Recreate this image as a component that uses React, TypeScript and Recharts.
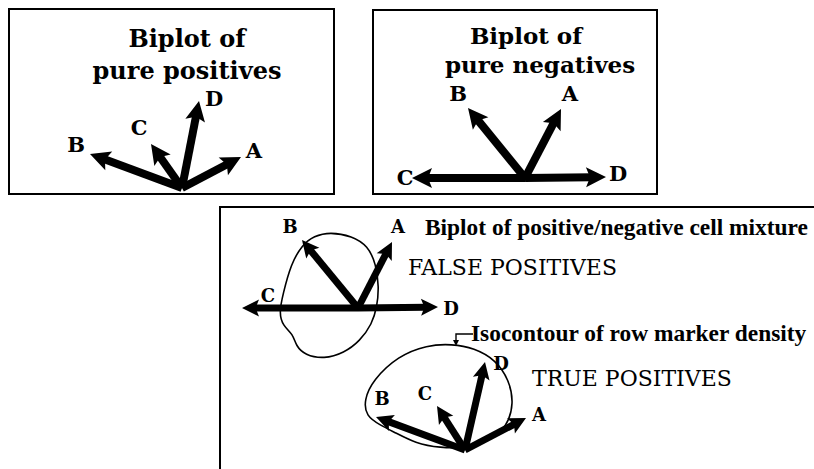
import { ScatterChart, Scatter, XAxis, YAxis, ReferenceArea } from 'recharts';

const W = 814;
const H = 469;

// panel frames (data units = pixels)
const FRAMES = [
  { x1: 9, x2: 334, y1: 9, y2: 194 },
  { x1: 373, x2: 657, y1: 10, y2: 194 },
  { x1: 220, x2: 900, y1: 207, y2: 600 },
];

// arrow origins of the four biplots
const ORIGINS = [
  { x: 182, y: 188 },
  { x: 525, y: 178 },
  { x: 358, y: 308 },
  { x: 465, y: 450 },
];

// arrow tips: A, B, C, D for each biplot
const TIPS = [
  [{ x: 241, y: 157 }, { x: 90, y: 154 }, { x: 151, y: 144 }, { x: 199, y: 101 }],
  [{ x: 561, y: 109 }, { x: 468, y: 108 }, { x: 412, y: 178 }, { x: 606, y: 177 }],
  [{ x: 392, y: 242 }, { x: 302, y: 240 }, { x: 242, y: 308 }, { x: 438, y: 307 }],
  [{ x: 526, y: 418 }, { x: 376, y: 417 }, { x: 437, y: 406 }, { x: 485, y: 362 }],
];

const LETTERS = ['A', 'B', 'C', 'D'];

// letter label positions
const LETTER_POS = [
  [{ x: 254, y: 158 }, { x: 76, y: 152 }, { x: 139, y: 135 }, { x: 214, y: 106 }],
  [{ x: 570, y: 101 }, { x: 458, y: 101 }, { x: 405, y: 185 }, { x: 618, y: 181 }],
];
const LETTER_POS_SMALL = [
  [{ x: 398, y: 233 }, { x: 290, y: 233 }, { x: 268, y: 302 }, { x: 451, y: 315 }],
  [{ x: 539, y: 421 }, { x: 382, y: 405 }, { x: 425, y: 400 }, { x: 501, y: 370 }],
];

// titles of the two small panels
const TITLES_POS = [
  { x: 187, y: 47, text: 'Biplot of' },
  { x: 187, y: 79, text: 'pure positives' },
];
const TITLES_NEG = [
  { x: 526, y: 44, text: 'Biplot of' },
  { x: 540, y: 73, text: 'pure negatives' },
];

const NOTES = [
  { x: 425, y: 235, text: 'Biplot of positive/negative cell mixture' },
  { x: 471, y: 341, text: 'Isocontour of row marker density' },
];

const STATES = [
  { x: 408, y: 275, text: 'FALSE  POSITIVES' },
  { x: 532, y: 386, text: 'TRUE  POSITIVES' },
];

// isocontours
const CONTOUR_FALSE = [
  { x: 330, y: 232 }, { x: 352, y: 236 }, { x: 368, y: 246 }, { x: 376, y: 264 },
  { x: 379, y: 287 }, { x: 377, y: 307 }, { x: 372, y: 324 }, { x: 360, y: 341 },
  { x: 344, y: 353 }, { x: 324, y: 359 }, { x: 305, y: 355 }, { x: 296, y: 346 },
  { x: 293, y: 334 }, { x: 283, y: 326 }, { x: 279, y: 313 }, { x: 283, y: 294 },
  { x: 291, y: 264 }, { x: 302, y: 245 }, { x: 314, y: 236 },
];
const CONTOUR_TRUE = [
  { x: 427, y: 345 }, { x: 452, y: 344 }, { x: 474, y: 348 }, { x: 496, y: 360 },
  { x: 509, y: 380 }, { x: 514, y: 403 }, { x: 507, y: 427 }, { x: 490, y: 440 },
  { x: 467, y: 448 }, { x: 440, y: 448 }, { x: 415, y: 443 }, { x: 396, y: 433 },
  { x: 380, y: 425 }, { x: 366, y: 416 }, { x: 364, y: 400 }, { x: 373, y: 380 },
  { x: 398, y: 356 },
];

const POINTER = [
  { x: 473, y: 334 },
  { x: 456, y: 334 },
  { x: 456, y: 342 },
];
const POINTER_TIP = [{ x: 456, y: 346 }];

const HEAD = 20;
const HALF = 10;

const none = () => <g />;

function shaftEnd(o: { x: number; y: number }, t: { x: number; y: number }, head: number) {
  const dx = t.x - o.x;
  const dy = t.y - o.y;
  const len = Math.sqrt(dx * dx + dy * dy);
  return { x: t.x - (dx / len) * head * 0.7, y: t.y - (dy / len) * head * 0.7 };
}

const ArrowHead = (props: any) => {
  const { cx, cy, payload } = props;
  const ang = (Math.atan2(payload.y - payload.oy, payload.x - payload.ox) * 180) / Math.PI;
  const len = payload.small ? HEAD * 0.85 : HEAD;
  const half = payload.small ? HALF * 0.85 : HALF;
  return (
    <polygon
      points={`0,0 ${-len},${-half} ${-len * 0.8},0 ${-len},${half}`}
      transform={`translate(${cx},${cy}) rotate(${ang})`}
      fill="#000"
    />
  );
};

const PointerHead = (props: any) => {
  const { cx, cy } = props;
  return <polygon points={`${cx},${cy} ${cx - 3},${cy - 6} ${cx + 3},${cy - 6}`} fill="#000" />;
};

const textShape = (style: any, anchor: string) => (props: any) => {
  const { cx, cy, payload } = props;
  return (
    <text x={cx} y={cy} fill="#000" textAnchor={anchor} style={style}>
      {payload.text ?? payload.label}
    </text>
  );
};

const SLAB = "'DejaVu Serif', serif";
const TIMES = "'Liberation Serif', serif";

const titleStyle = { fontFamily: SLAB, fontWeight: 700, fontSize: 24 };
const titleNegStyle = { fontFamily: SLAB, fontWeight: 700, fontSize: 23 };
const noteStyle = { fontFamily: TIMES, fontWeight: 700, fontSize: 23.4 };
const stateStyle = { fontFamily: SLAB, fontSize: 22 };
const letterStyle = { fontFamily: SLAB, fontWeight: 700, fontSize: 21 };
const letterSmallStyle = { fontFamily: SLAB, fontWeight: 700, fontSize: 18 };

export default function App() {
  const arrows = TIPS.flatMap((tips, p) =>
    tips.map((t, i) => {
      const small = p >= 2;
      return {
        key: `a-${p}-${i}`,
        shaft: [ORIGINS[p], shaftEnd(ORIGINS[p], t, small ? HEAD * 0.85 : HEAD)],
        head: { x: t.x, y: t.y, ox: ORIGINS[p].x, oy: ORIGINS[p].y, small },
        width: small ? 7 : 8,
      };
    })
  );

  const letters = LETTER_POS.flatMap((row) => row.map((pt, i) => ({ ...pt, label: LETTERS[i] })));
  const lettersSmall = LETTER_POS_SMALL.flatMap((row) => row.map((pt, i) => ({ ...pt, label: LETTERS[i] })));

  return (
    <div style={{ position: 'absolute', left: 0, top: 0, background: '#fff' }}>
      <ScatterChart width={W} height={H} margin={{ top: 0, right: 0, bottom: 0, left: 0 }}>
        <XAxis type="number" dataKey="x" domain={[0, W]} hide allowDataOverflow />
        <YAxis type="number" dataKey="y" domain={[0, H]} reversed hide allowDataOverflow />

        {FRAMES.map((f, i) => (
          <ReferenceArea
            key={`f-${i}`}
            x1={f.x1}
            x2={f.x2}
            y1={f.y1}
            y2={f.y2}
            fill="none"
            fillOpacity={0}
            stroke="#000"
            strokeWidth={2}
            ifOverflow="hidden"
          />
        ))}

        <Scatter
          data={CONTOUR_FALSE}
          line={{ stroke: '#000', strokeWidth: 1.6 }}
          lineJointType="basisClosed"
          shape={none}
          isAnimationActive={false}
        />
        <Scatter
          data={CONTOUR_TRUE}
          line={{ stroke: '#000', strokeWidth: 1.6 }}
          lineJointType="basisClosed"
          shape={none}
          isAnimationActive={false}
        />

        {arrows.map((a) => (
          <Scatter
            key={a.key}
            data={a.shaft}
            line={{ stroke: '#000', strokeWidth: a.width }}
            shape={none}
            isAnimationActive={false}
          />
        ))}
        <Scatter data={arrows.map((a) => a.head)} shape={ArrowHead} isAnimationActive={false} />

        <Scatter data={POINTER} line={{ stroke: '#000', strokeWidth: 1.4 }} shape={none} isAnimationActive={false} />
        <Scatter data={POINTER_TIP} shape={PointerHead} isAnimationActive={false} />

        <Scatter data={TITLES_POS} shape={textShape(titleStyle, 'middle')} isAnimationActive={false} />
        <Scatter data={TITLES_NEG} shape={textShape(titleNegStyle, 'middle')} isAnimationActive={false} />
        <Scatter data={NOTES} shape={textShape(noteStyle, 'start')} isAnimationActive={false} />
        <Scatter data={STATES} shape={textShape(stateStyle, 'start')} isAnimationActive={false} />
        <Scatter data={letters} shape={textShape(letterStyle, 'middle')} isAnimationActive={false} />
        <Scatter data={lettersSmall} shape={textShape(letterSmallStyle, 'middle')} isAnimationActive={false} />
      </ScatterChart>
    </div>
  );
}
